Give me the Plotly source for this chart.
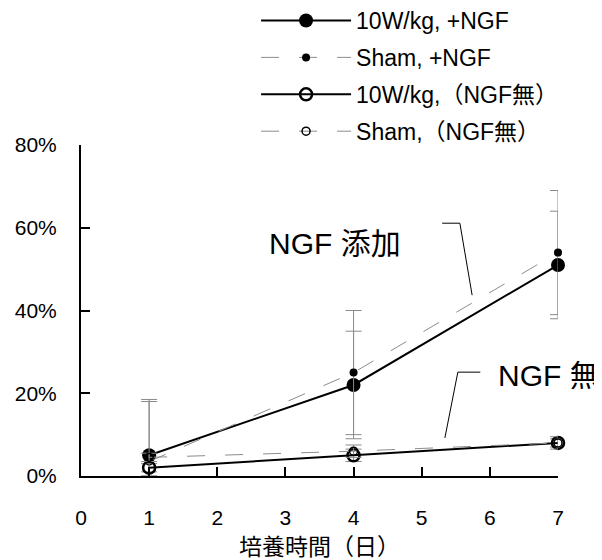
import numpy as np
import plotly.graph_objects as go

days = [1, 4, 7]
w10_ngf = [5, 22, 51]
w10_ngf_err = [13, 13, 13]
sham_ngf = [3.5, 25, 54]
sham_ngf_err = [15, 15, 15]
w10_no = [2, 5, 8]
w10_no_err = [1, 1.5, 1]
sham_no = [4.5, 6, 8]
sham_no_err = [1, 1.5, 1.5]

names = ["10W/kg, +NGF", "Sham, +NGF", "10W/kg,（NGF無）", "Sham,（NGF無）"]
y_ticks = [0, 20, 40, 60, 80]
y_labels = ["0%", "20%", "40%", "60%", "80%"]
x_ticks = [0, 1, 2, 3, 4, 5, 6, 7]

FONT = "Liberation Sans, Arial, Noto Sans CJK JP"
GRAY = "#8c8c8c"
EB = "#8a8a8a"

def err(vals, e):
    e = np.array(e, dtype=float)
    v = np.array(vals, dtype=float)
    return dict(type="data", array=list(e), arrayminus=list(np.minimum(e, v)),
                color=EB, thickness=1, width=8)

fig = go.Figure()
fig.add_trace(go.Scatter(x=days, y=w10_ngf, name=names[0], mode="lines+markers",
                         line=dict(color="black", width=2),
                         marker=dict(symbol="circle", size=14, color="black"),
                         error_y=err(w10_ngf, w10_ngf_err), cliponaxis=False, legendgroup="a"))
fig.add_trace(go.Scatter(x=days, y=sham_ngf, name=names[1], mode="lines+markers",
                         line=dict(color=GRAY, width=1, dash="18px,20px"),
                         marker=dict(symbol="circle", size=8, color="black"),
                         error_y=err(sham_ngf, sham_ngf_err), cliponaxis=False, legendgroup="b"))
fig.add_trace(go.Scatter(x=days, y=w10_no, name=names[2], mode="lines+markers",
                         line=dict(color="black", width=2),
                         marker=dict(symbol="circle-open", size=12, color="black", line=dict(width=2.5)),
                         error_y=err(w10_no, w10_no_err), cliponaxis=False, legendgroup="c"))
fig.add_trace(go.Scatter(x=days, y=sham_no, name=names[3], mode="lines+markers",
                         line=dict(color=GRAY, width=1, dash="18px,20px"),
                         marker=dict(symbol="circle-open", size=8, color="black", line=dict(width=1.5)),
                         error_y=err(sham_no, sham_no_err), cliponaxis=False, legendgroup="d"))

# leader lines
fig.add_shape(type="path", path="M 5.30 61.1 L 5.56 61.1 L 5.74 43.7", xref="x", yref="y",
              line=dict(color="black", width=1))
fig.add_shape(type="path", path="M 5.86 25.1 L 5.53 25.1 L 5.34 9.2", xref="x", yref="y",
              line=dict(color="black", width=1))

fig.add_annotation(x=3.73, y=56.3, xref="x", yref="y", text="NGF 添加", showarrow=False,
                   font=dict(size=30, color="black", family=FONT))
fig.add_annotation(x=6.09, y=24.3, xref="x", yref="y", text="NGF 無", showarrow=False,
                   xanchor="left", font=dict(size=30, color="black", family=FONT))

fig.update_layout(
    width=594, height=552,
    margin=dict(l=73, r=44, t=137, b=84, autoexpand=False),
    paper_bgcolor="white", plot_bgcolor="white",
    font=dict(family=FONT, color="black", size=21),
    showlegend=True,
    legend=dict(x=0.367, y=1.441, xanchor="left", yanchor="top",
                bgcolor="rgba(0,0,0,0)",
                font=dict(size=23, family=FONT), tracegroupgap=4, itemwidth=90,
                traceorder="grouped"),
    xaxis=dict(range=[0, 7], tickmode="array", tickvals=x_ticks, automargin=False,
               showline=True, linecolor="black", linewidth=2, ticks="inside", ticklen=9,
               tickcolor="black", tickwidth=1.5, showgrid=False, zeroline=False,
               tickfont=dict(size=21), ticklabelstandoff=22,
               title=dict(text="培養時間（日）", font=dict(size=23), standoff=11)),
    yaxis=dict(range=[0, 80], tickmode="array", tickvals=y_ticks, ticktext=y_labels, automargin=False,
               showline=True, linecolor="black", linewidth=2, ticks="inside", ticklen=9,
               tickcolor="black", tickwidth=1.5, showgrid=False, zeroline=False,
               tickfont=dict(size=21), ticklabelstandoff=18),
)

fig.write_html("out.html")
